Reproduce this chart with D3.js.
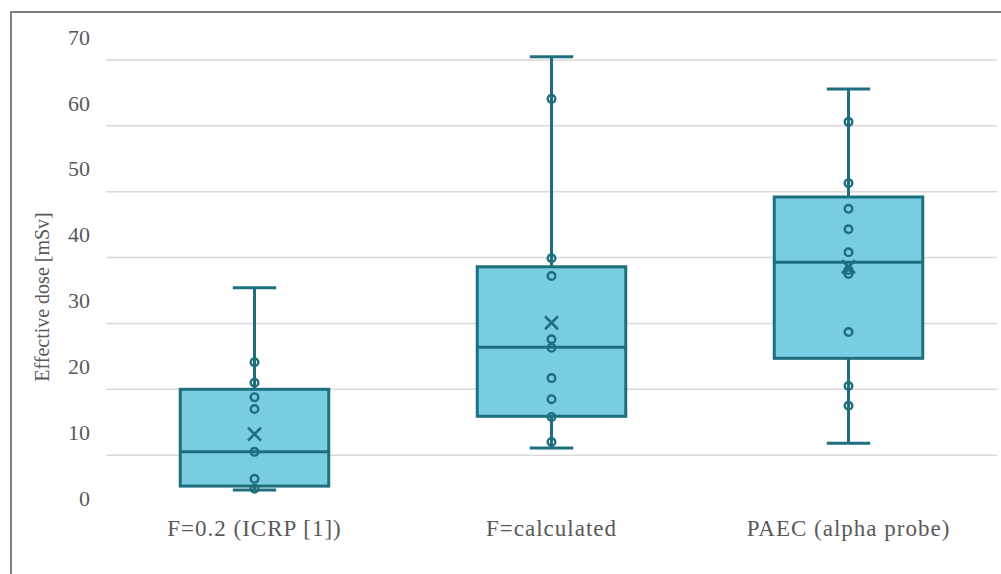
<!DOCTYPE html>
<html>
<head>
<meta charset="utf-8">
<script src="https://cdn.jsdelivr.net/npm/d3@7"></script>
<style>
  html, body { margin: 0; padding: 0; background: #fff; }
  svg { display: block; }
</style>
</head>
<body>
<div id="chart"></div>
<script>
// categories and box statistics (mSv)
const categories = ["F=0.2 (ICRP [1])", "F=calculated", "PAEC (alpha probe)"];
const whiskerMin = [4.7, 11.1, 11.8];
const q1Values   = [5.3, 15.9, 24.7];
const medians    = [10.5, 26.4, 39.3];
const q3Values   = [20.0, 38.6, 49.2];
const whiskerMax = [35.4, 70.5, 65.6];
const means      = [13.2, 30.1, 38.6];

// inner points per category
const pointsIcrp = [24.1, 21.0, 18.8, 17.0, 10.5, 6.4, 4.9];
const pointsCalc = [64.1, 39.9, 37.2, 27.6, 26.3, 21.7, 18.5, 15.8, 12.0];
const pointsPaec = [60.6, 51.3, 47.4, 44.3, 40.8, 38.1, 37.5, 28.7, 20.5, 17.5];
const pointSets = [pointsIcrp, pointsCalc, pointsPaec];

const yTicks = [0, 10, 20, 30, 40, 50, 60, 70];
const yTitle = "Effective dose [mSv]";

const width = 1001, height = 574;
const fillCol = "#78cde0", lineCol = "#1e6e80";
const textCol = "#595959";
const font = "'Liberation Serif', serif";

const svg = d3.select("#chart").append("svg")
  .attr("width", width).attr("height", height);

// frame (only left and top edges visible in the crop)
svg.append("path")
  .attr("d", `M11,${height} V12 H${width}`)
  .attr("fill", "none").attr("stroke", "#7f7f7f").attr("stroke-width", 2);

const x = d3.scaleBand().domain(categories).range([106, 997]);
const y = d3.scaleLinear().domain([0, 70]).range([521, 60]);

// gridlines
svg.append("g").selectAll("line")
  .data(yTicks.filter(d => d > 0))
  .join("line")
  .attr("x1", 106).attr("x2", 997)
  .attr("y1", d => y(d)).attr("y2", d => y(d))
  .attr("stroke", "#d9d9d9").attr("stroke-width", 1.5);

// tick labels (sit a bit above their gridlines, as in the original)
svg.append("g").selectAll("text")
  .data(yTicks)
  .join("text")
  .attr("x", 90)
  .attr("y", d => y(d) - 23)
  .attr("dy", "0.35em")
  .attr("text-anchor", "end")
  .attr("fill", textCol)
  .attr("font-family", font)
  .attr("font-size", 22)
  .text(d => d);

svg.append("text")
  .attr("transform", "translate(42,297) rotate(-90)")
  .attr("text-anchor", "middle")
  .attr("dy", "0.35em")
  .attr("fill", textCol)
  .attr("font-family", font)
  .attr("font-size", 20)
  .text(yTitle);

// category labels
svg.append("g").selectAll("text")
  .data(categories)
  .join("text")
  .attr("x", d => x(d) + x.bandwidth() / 2)
  .attr("y", 536)
  .attr("text-anchor", "middle")
  .attr("fill", textCol)
  .attr("font-family", font)
  .attr("font-size", 23)
  .attr("letter-spacing", 1)
  .text(d => d);

const boxes = categories.map((c, i) => ({
  cat: c, min: whiskerMin[i], q1: q1Values[i], med: medians[i],
  q3: q3Values[i], max: whiskerMax[i], mean: means[i], pts: pointSets[i]
}));

const boxW = x.bandwidth() * 0.5;
const capW = x.bandwidth() * 0.146;

const g = svg.append("g").selectAll("g")
  .data(boxes)
  .join("g")
  .attr("transform", d => `translate(${x(d.cat) + x.bandwidth() / 2},0)`);

// whiskers
g.append("line")
  .attr("x1", 0).attr("x2", 0)
  .attr("y1", d => y(d.max)).attr("y2", d => y(d.q3))
  .attr("stroke", lineCol).attr("stroke-width", 3);
g.append("line")
  .attr("x1", 0).attr("x2", 0)
  .attr("y1", d => y(d.q1)).attr("y2", d => y(d.min))
  .attr("stroke", lineCol).attr("stroke-width", 3);
g.append("line")
  .attr("x1", -capW / 2).attr("x2", capW / 2)
  .attr("y1", d => y(d.max)).attr("y2", d => y(d.max))
  .attr("stroke", lineCol).attr("stroke-width", 3);
g.append("line")
  .attr("x1", -capW / 2).attr("x2", capW / 2)
  .attr("y1", d => y(d.min)).attr("y2", d => y(d.min))
  .attr("stroke", lineCol).attr("stroke-width", 3);

// box
g.append("rect")
  .attr("x", -boxW / 2).attr("width", boxW)
  .attr("y", d => y(d.q3))
  .attr("height", d => y(d.q1) - y(d.q3))
  .attr("fill", fillCol)
  .attr("stroke", lineCol).attr("stroke-width", 3);

// median
g.append("line")
  .attr("x1", -boxW / 2).attr("x2", boxW / 2)
  .attr("y1", d => y(d.med)).attr("y2", d => y(d.med))
  .attr("stroke", lineCol).attr("stroke-width", 3);

// inner points
g.selectAll("circle")
  .data(d => d.pts)
  .join("circle")
  .attr("cx", 0).attr("cy", d => y(d))
  .attr("r", 3.8)
  .attr("fill", "none")
  .attr("stroke", lineCol).attr("stroke-width", 2.4);

// mean marker
const m = 6.5;
g.append("path")
  .attr("d", d => `M${-m},${y(d.mean) - m} L${m},${y(d.mean) + m} M${m},${y(d.mean) - m} L${-m},${y(d.mean) + m}`)
  .attr("stroke", lineCol).attr("stroke-width", 2.6)
  .attr("fill", "none");
</script>
</body>
</html>
